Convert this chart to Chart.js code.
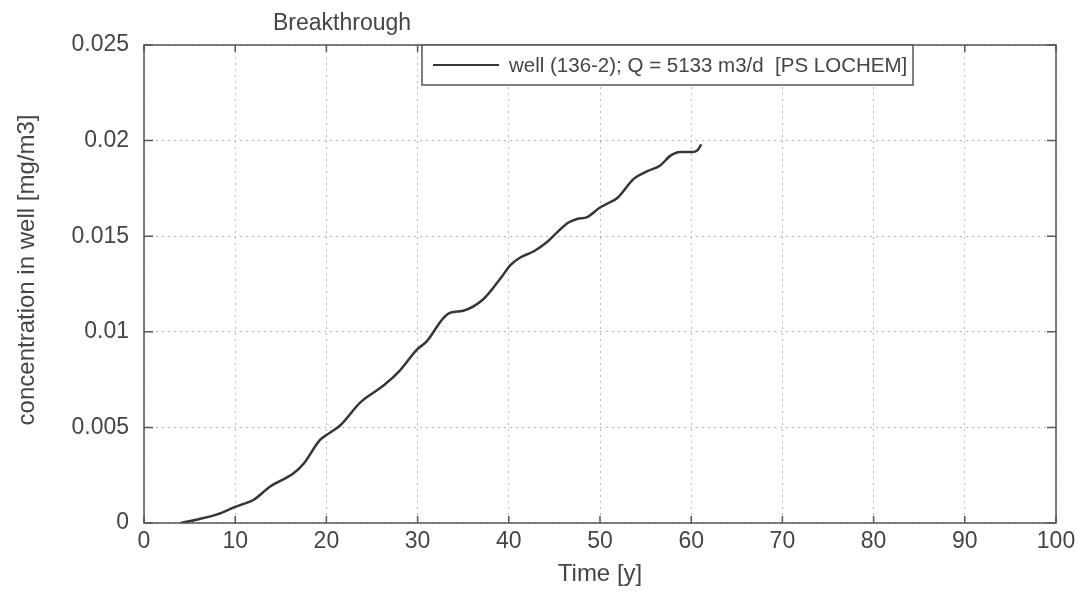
<!DOCTYPE html>
<html>
<head>
<meta charset="utf-8">
<script src="https://cdn.jsdelivr.net/npm/chart.js@4/dist/chart.umd.min.js"></script>
<style>
  html, body { margin: 0; padding: 0; background: #fff; }
  #wrap { width: 1081px; height: 594px; }
</style>
</head>
<body>
<div id="wrap"><canvas id="c" width="1081" height="594"></canvas></div>
<script>
// time [y] and concentration [mg/m3]
const times = [4, 6, 8, 10, 11.6, 12, 13.8, 16.4, 17.5, 19.3, 20, 21.5, 23.7, 26.3, 28.1, 29.9, 31,
    32.8, 33.6, 35, 37.2, 39.1, 40.2, 41.3, 42.7, 44.2, 45.3, 46.5, 47.5, 48.6, 50, 51.2, 51.9,
    53.7, 55.2, 56.6, 57.7, 58.8, 60.1, 60.7, 61.1];
const conc = [0, 0.0002, 0.00045, 0.00084, 0.00112, 0.0012, 0.0019, 0.0026, 0.0031, 0.00435, 0.0046,
    0.0051, 0.0063, 0.0072, 0.008, 0.00906, 0.0095, 0.0107, 0.011, 0.0111, 0.0117, 0.0128, 0.0135,
    0.0139, 0.0142, 0.0147, 0.0152, 0.0157, 0.0159, 0.016, 0.0165, 0.0168, 0.017, 0.018, 0.0184,
    0.0187, 0.0192, 0.0194, 0.0194, 0.0195, 0.0198];
const seriesLabel = 'well (136-2); Q = 5133 m3/d  [PS LOCHEM]';
const titleText = 'Breakthrough';
const xTitle = 'Time [y]';
const yTitle = 'concentration in well [mg/m3]';

const ink = '#363636';
const textCol = '#454545';
const font = '"Liberation Sans", Arial, sans-serif';

const points = times.map((t, i) => ({x: t, y: conc[i]}));

// frame, inward ticks, title, y title and boxed legend
const decor = {
    id: 'decor',
    afterDraw(chart) {
        const ctx = chart.ctx;
        const a = chart.chartArea;
        const xs = chart.scales.x, ys = chart.scales.y;
        ctx.save();
        ctx.strokeStyle = '#555';
        ctx.lineWidth = 1.5;
        ctx.strokeRect(a.left, a.top, a.right - a.left, a.bottom - a.top);
        ctx.beginPath();
        xs.ticks.forEach(t => {
            const px = xs.getPixelForValue(t.value);
            ctx.moveTo(px, a.bottom); ctx.lineTo(px, a.bottom - 7);
            ctx.moveTo(px, a.top); ctx.lineTo(px, a.top + 7);
        });
        ys.ticks.forEach(t => {
            const py = ys.getPixelForValue(t.value);
            ctx.moveTo(a.left, py); ctx.lineTo(a.left + 9, py);
            ctx.moveTo(a.right, py); ctx.lineTo(a.right - 9, py);
        });
        ctx.stroke();

        ctx.fillStyle = textCol;
        ctx.font = '23px ' + font;
        ctx.textAlign = 'center';
        ctx.textBaseline = 'alphabetic';
        ctx.fillText(titleText, 342, 30);

        ctx.save();
        ctx.translate(27, 270);
        ctx.rotate(-Math.PI / 2);
        ctx.font = '24px ' + font;
        ctx.textBaseline = 'middle';
        ctx.fillText(yTitle, 0, 0);
        ctx.restore();

        // legend box
        const lx = 422, ly = a.top, lw = 491, lh = 40;
        ctx.fillStyle = '#fff';
        ctx.fillRect(lx, ly, lw, lh);
        ctx.strokeStyle = '#555';
        ctx.lineWidth = 1.5;
        ctx.strokeRect(lx, ly, lw, lh);
        ctx.strokeStyle = ink;
        ctx.lineWidth = 2;
        ctx.beginPath();
        ctx.moveTo(433, ly + lh / 2); ctx.lineTo(499, ly + lh / 2);
        ctx.stroke();
        ctx.fillStyle = textCol;
        ctx.font = '20.5px ' + font;
        ctx.textAlign = 'left';
        ctx.textBaseline = 'middle';
        ctx.fillText(chart.data.datasets[0].label, 509, ly + lh / 2 + 1);
        ctx.restore();
    }
};

const grid = {
    color: '#b8b8b8',
    lineWidth: 1,
    drawTicks: false
};

new Chart(document.getElementById('c'), {
    type: 'line',
    data: {
        datasets: [{
            label: seriesLabel,
            data: points,
            borderColor: ink,
            borderWidth: 2.5,
            pointRadius: 0,
            tension: 0.4,
            cubicInterpolationMode: 'monotone',
            fill: false
        }]
    },
    options: {
        responsive: false,
        animation: false,
        layout: { padding: { top: 45, right: 25, left: 0, bottom: 0 } },
        plugins: { legend: { display: false }, title: { display: false }, tooltip: { enabled: false } },
        scales: {
            x: {
                type: 'linear',
                min: 0, max: 100,
                border: { display: false, dash: [2, 4] },
                grid: grid,
                ticks: { stepSize: 10, color: textCol, font: { size: 23, family: font }, padding: 5, maxRotation: 0 },
                title: { display: true, text: xTitle, color: textCol, font: { size: 24, family: font }, padding: { top: 0, bottom: 5 } },
                afterFit(s) { s.height = 71; }
            },
            y: {
                min: 0, max: 0.025,
                border: { display: false, dash: [2, 4] },
                grid: grid,
                ticks: {
                    stepSize: 0.005, color: textCol, font: { size: 23, family: font }, padding: 15,
                    callback: v => String(Number(v.toFixed(3)))
                },
                afterFit(s) { s.width = 144; }
            }
        }
    },
    plugins: [decor]
});
</script>
</body>
</html>
